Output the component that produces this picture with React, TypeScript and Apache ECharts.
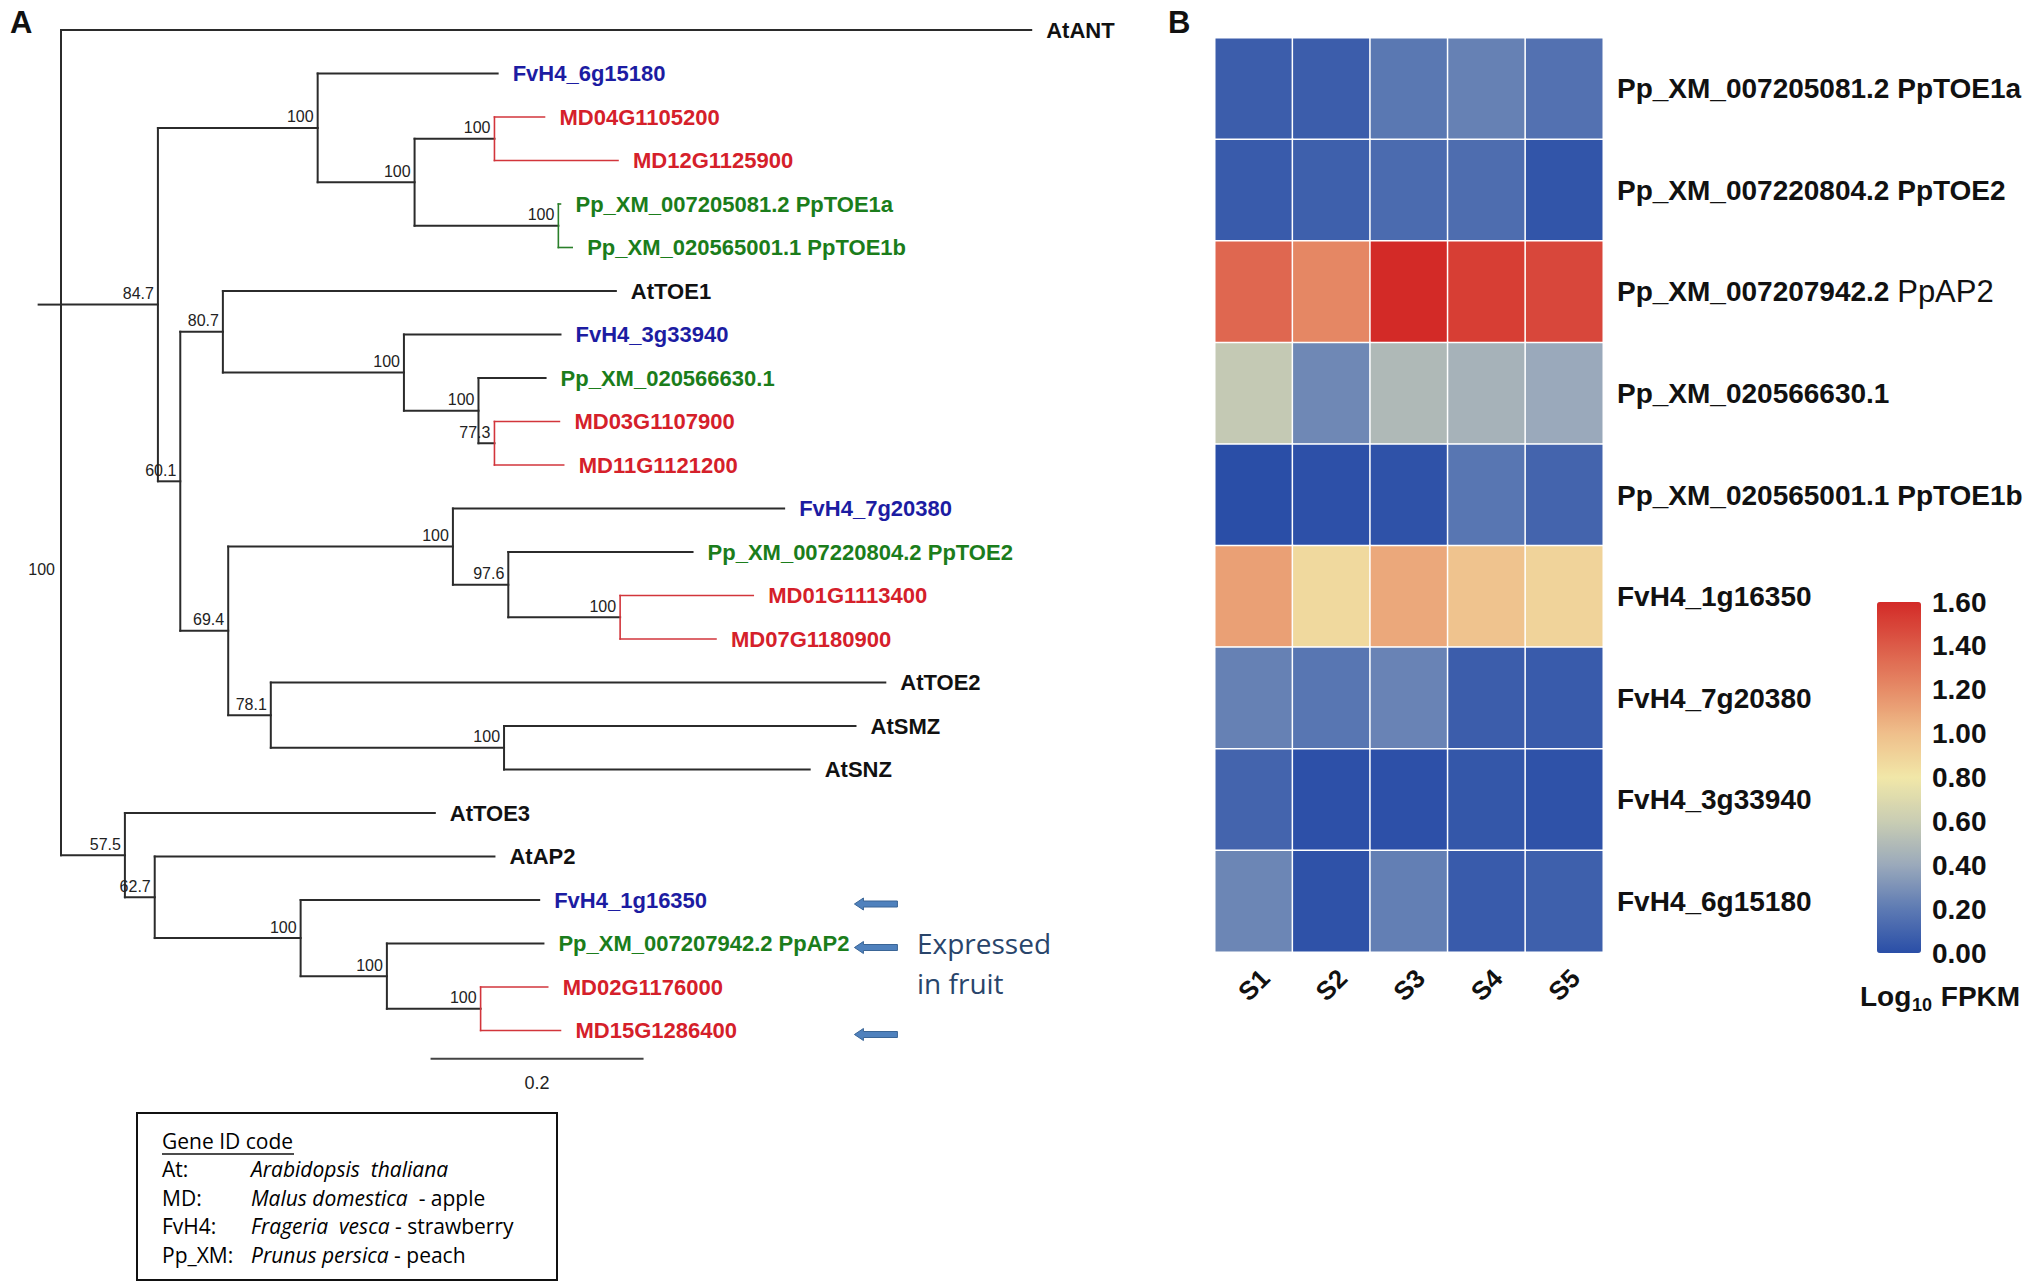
import { useEffect, useRef } from "react";
import * as echarts from "echarts";

const SANS = 'Arial, "Liberation Sans", Helvetica, sans-serif';
const HUMANIST = '"Open Sans", "Noto Sans", "DejaVu Sans", sans-serif';

// ---------------- Panel A: phylogenetic tree ----------------
// [node, parent, branch length, bootstrap support, clade tint]
const treeNodes: [string, string | null, number, string, string][] = [
  ["root", null, 0, "100", ""],
  ["AtANT", "root", 0.911, "", ""],
  ["n84.7", "root", 0.091, "84.7", ""],
  ["nA", "n84.7", 0.15, "100", ""],
  ["FvH4_6g15180", "nA", 0.169, "", ""],
  ["nB", "nA", 0.091, "100", ""],
  ["nMD1", "nB", 0.075, "100", "MD"],
  ["MD04G1105200", "nMD1", 0.047, "", ""],
  ["MD12G1125900", "nMD1", 0.116, "", ""],
  ["nPp1", "nB", 0.135, "100", "Pp"],
  ["Pp_XM_007205081.2 PpTOE1a", "nPp1", 0.002, "", ""],
  ["Pp_XM_020565001.1 PpTOE1b", "nPp1", 0.013, "", ""],
  ["n60.1", "n84.7", 0.021, "60.1", ""],
  ["n80.7", "n60.1", 0.04, "80.7", ""],
  ["AtTOE1", "n80.7", 0.369, "", ""],
  ["nC", "n80.7", 0.17, "100", ""],
  ["FvH4_3g33940", "nC", 0.147, "", ""],
  ["nD", "nC", 0.07, "100", ""],
  ["Pp_XM_020566630.1", "nD", 0.063, "", ""],
  ["n77.3", "nD", 0.015, "77.3", "MD"],
  ["MD03G1107900", "n77.3", 0.061, "", ""],
  ["MD11G1121200", "n77.3", 0.065, "", ""],
  ["n69.4", "n60.1", 0.045, "69.4", ""],
  ["nE", "n69.4", 0.211, "100", ""],
  ["FvH4_7g20380", "nE", 0.311, "", ""],
  ["n97.6", "nE", 0.052, "97.6", ""],
  ["Pp_XM_007220804.2 PpTOE2", "n97.6", 0.173, "", ""],
  ["nMD2", "n97.6", 0.105, "100", "MD"],
  ["MD01G1113400", "nMD2", 0.125, "", ""],
  ["MD07G1180900", "nMD2", 0.09, "", ""],
  ["n78.1", "n69.4", 0.04, "78.1", ""],
  ["AtTOE2", "n78.1", 0.577, "", ""],
  ["nF", "n78.1", 0.219, "100", ""],
  ["AtSMZ", "nF", 0.33, "", ""],
  ["AtSNZ", "nF", 0.287, "", ""],
  ["n57.5", "root", 0.06, "57.5", ""],
  ["AtTOE3", "n57.5", 0.291, "", ""],
  ["n62.7", "n57.5", 0.028, "62.7", ""],
  ["AtAP2", "n62.7", 0.319, "", ""],
  ["nG", "n62.7", 0.137, "100", ""],
  ["FvH4_1g16350", "nG", 0.224, "", ""],
  ["nH", "nG", 0.081, "100", ""],
  ["Pp_XM_007207942.2 PpAP2", "nH", 0.147, "", ""],
  ["nMD3", "nH", 0.088, "100", "MD"],
  ["MD02G1176000", "nMD3", 0.063, "", ""],
  ["MD15G1286400", "nMD3", 0.075, "", ""],
];
const rootStubLength = 0.021;
const scaleBarLength = 0.2;
const scaleBarLabel = "0.2";
const expressedLeaves = ["FvH4_1g16350", "Pp_XM_007207942.2 PpAP2", "MD15G1286400"];

const speciesPrefixes = ["FvH4", "MD", "Pp", "At"];
const speciesLabelColors = ["#1c1ca2", "#d5202a", "#1b7d1b", "#111111"];
const cladeTints: Record<string, string> = { MD: "#d2353b", Pp: "#2a7f2a", "": "#2b2b2b" };

const legendCodes = ["At:", "MD:", "FvH4:", "Pp_XM:"];
const legendSpecies = ["Arabidopsis  thaliana", "Malus domestica", "Frageria  vesca", "Prunus persica"];
const legendCommon = ["", "  - apple", " - strawberry", " - peach"];

// ---------------- Panel B: heatmap ----------------
const heatSamples = ["S1", "S2", "S3", "S4", "S5"];
const heatGenes = [
  "Pp_XM_007205081.2 PpTOE1a",
  "Pp_XM_007220804.2 PpTOE2",
  "Pp_XM_007207942.2 PpAP2",
  "Pp_XM_020566630.1",
  "Pp_XM_020565001.1 PpTOE1b",
  "FvH4_1g16350",
  "FvH4_7g20380",
  "FvH4_3g33940",
  "FvH4_6g15180",
];
const heatValues = [
  [0.07, 0.07, 0.19, 0.23, 0.16],
  [0.06, 0.08, 0.13, 0.14, 0.03],
  [1.35, 1.22, 1.6, 1.52, 1.48],
  [0.58, 0.26, 0.49, 0.45, 0.4],
  [0.0, 0.01, 0.02, 0.18, 0.1],
  [1.12, 0.87, 1.09, 0.98, 0.9],
  [0.23, 0.18, 0.24, 0.07, 0.06],
  [0.1, 0.01, 0.01, 0.04, 0.02],
  [0.25, 0.02, 0.22, 0.06, 0.08],
];
const colorScaleMin = 0;
const colorScaleMax = 1.6;
const colorScaleStep = 0.2;
const colorScaleStops = [
  "#2a4ea7", "#5d7ab3", "#9aa9bb", "#c9cdb3", "#f1e7a8",
  "#efbf8b", "#e68c67", "#dc5b48", "#d32a27",
];

type TNode = {
  name: string;
  parent: TNode | null;
  bl: number;
  support: string;
  tint: string;
  children: TNode[];
  x: number;
  y: number;
};

function buildTree(): TNode[] {
  const map = new Map<string, TNode>();
  const list: TNode[] = [];
  treeNodes.forEach(([name, , bl, support, tint]) => {
    const n: TNode = { name, parent: null, bl, support, tint, children: [], x: 0, y: 0 };
    map.set(name, n);
    list.push(n);
  });
  treeNodes.forEach(([name, parent]) => {
    if (parent) {
      const n = map.get(name)!;
      const p = map.get(parent)!;
      n.parent = p;
      p.children.push(n);
    }
  });
  let leaf = 0;
  const layout = (n: TNode) => {
    n.x = n.parent ? n.parent.x + n.bl : 0;
    if (!n.children.length) {
      n.y = leaf++;
      return;
    }
    n.children.forEach(layout);
    const k = n.children.length;
    n.y = k % 2 === 1 ? n.children[(k - 1) / 2].y : (n.children[0].y + n.children[k - 1].y) / 2;
  };
  layout(map.get("root")!);
  return list;
}

function leafColor(name: string) {
  const i = speciesPrefixes.findIndex((p) => name.startsWith(p));
  return speciesLabelColors[i < 0 ? 3 : i];
}

function buildOption() {
  const nodes = buildTree();
  const leafCount = nodes.filter((n) => !n.children.length).length;
  const byName = new Map(nodes.map((n) => [n.name, n]));

  const treeData = nodes.map((n) => [
    n.x,
    n.y,
    n.parent ? n.parent.x : -rootStubLength,
    n.children.length ? n.children[0].y : n.y,
    n.children.length ? n.children[n.children.length - 1].y : n.y,
  ]);

  const heatData: number[][] = [];
  heatValues.forEach((row, r) => row.forEach((v, c) => heatData.push([c, r, v])));

  const arrowData = expressedLeaves.map((name) => [0.745, byName.get(name)!.y]);
  const scaleData = [[0.347, leafCount - 1 + 0.65]];

  const legendGraphics: any[] = [
    { type: "rect", shape: { x: 137, y: 1113, width: 420, height: 167 }, style: { fill: "#fff", stroke: "#111", lineWidth: 2 } },
    { type: "text", x: 162, y: 1141, style: { text: "Gene ID code", font: `21px ${HUMANIST}`, fill: "#000", align: "left", verticalAlign: "middle" } },
    { type: "line", shape: { x1: 162, y1: 1154, x2: 294, y2: 1154 }, style: { stroke: "#111", lineWidth: 1.5 } },
  ];
  legendCodes.forEach((code, i) => {
    const y = 1169 + i * 28.7;
    legendGraphics.push({ type: "text", x: 162, y, style: { text: code, font: `21px ${HUMANIST}`, fill: "#000", align: "left", verticalAlign: "middle" } });
    legendGraphics.push({
      type: "text",
      x: 251,
      y,
      style: {
        text: `{i|${legendSpecies[i]}}{n|${legendCommon[i]}}`,
        align: "left",
        verticalAlign: "middle",
        rich: {
          i: { fontStyle: "italic", fontSize: 21, fontFamily: HUMANIST, fill: "#000" },
          n: { fontSize: 21, fontFamily: HUMANIST, fill: "#000" },
        },
      },
    });
  });

  return {
    animation: false,
    backgroundColor: "#ffffff",
    grid: [
      { left: 61 - 0.05 * 1065, top: 30, width: 1.05 * 1065, height: 43.5 * (leafCount - 1) },
      { left: 1215, top: 38, width: 388, height: 914 },
      { left: 1920, top: 602, width: 1, height: 351 },
    ],
    xAxis: [
      { gridIndex: 0, type: "value", min: -0.05, max: 1.0, show: false },
      {
        gridIndex: 1,
        type: "category",
        data: heatSamples,
        position: "bottom",
        axisLine: { show: false },
        axisTick: { show: false },
        splitLine: { show: false },
        axisLabel: {
          rotate: 45,
          align: "center",
          verticalAlign: "middle",
          margin: 33,
          fontSize: 26,
          fontWeight: "bold",
          fontFamily: SANS,
          color: "#111",
        },
      },
      { gridIndex: 2, type: "value", show: false },
    ],
    yAxis: [
      { gridIndex: 0, type: "value", min: 0, max: leafCount - 1, inverse: true, show: false },
      {
        gridIndex: 1,
        type: "category",
        data: heatGenes,
        inverse: true,
        position: "right",
        axisLine: { show: false },
        axisTick: { show: false },
        splitLine: { show: false },
        axisLabel: {
          margin: 14,
          formatter: (v: string) =>
            v.endsWith(" PpAP2") ? `{a|${v.slice(0, -5)}}{b|PpAP2}` : `{a|${v}}`,
          rich: {
            a: { fontSize: 28, fontWeight: "bold", fontFamily: SANS, color: "#111" },
            b: { fontSize: 31, fontWeight: "normal", fontFamily: SANS, color: "#111" },
          },
        },
      },
      {
        gridIndex: 2,
        type: "value",
        min: colorScaleMin,
        max: colorScaleMax,
        interval: colorScaleStep,
        position: "right",
        axisLine: { show: false },
        axisTick: { show: false },
        splitLine: { show: false },
        axisLabel: {
          margin: 11,
          formatter: (v: number) => v.toFixed(2),
          fontSize: 28,
          fontWeight: "bold",
          fontFamily: SANS,
          color: "#111",
        },
      },
    ],
    visualMap: {
      type: "continuous",
      seriesIndex: 3,
      min: colorScaleMin,
      max: colorScaleMax,
      orient: "vertical",
      left: 1877,
      top: 602,
      padding: 0,
      itemWidth: 44,
      itemHeight: 351,
      calculable: false,
      hoverLink: false,
      inRange: { color: colorScaleStops },
    },
    series: [
      {
        type: "custom",
        name: "tree",
        xAxisIndex: 0,
        yAxisIndex: 0,
        clip: false,
        data: treeData,
        renderItem: (params: any, api: any) => {
          const n = nodes[params.dataIndex];
          const x = api.value(0);
          const y = api.value(1);
          const px = api.value(2);
          const [X, Y] = api.coord([x, y]);
          const PX = api.coord([px, y])[0];
          const els: any[] = [];
          const hStroke = cladeTints[n.parent ? n.parent.tint : ""];
          els.push({
            type: "line",
            shape: { x1: PX, y1: Y, x2: X, y2: Y },
            style: { stroke: hStroke, lineWidth: n.parent && n.parent.tint ? 1.6 : 2, lineCap: "square" },
          });
          if (n.children.length) {
            const top = api.coord([x, api.value(3)])[1];
            const bot = api.coord([x, api.value(4)])[1];
            els.push({
              type: "line",
              shape: { x1: X, y1: top, x2: X, y2: bot },
              style: { stroke: cladeTints[n.tint], lineWidth: n.tint ? 1.6 : 2, lineCap: "square" },
            });
            if (n.support) {
              if (!n.parent) {
                const last = n.children[n.children.length - 1];
                const my = api.coord([x, (n.y + last.y) / 2])[1];
                els.push({
                  type: "text",
                  x: X - 6,
                  y: my - 10,
                  style: { text: n.support, font: `16px ${SANS}`, fill: "#222", align: "right", verticalAlign: "middle" },
                });
              } else {
                els.push({
                  type: "text",
                  x: X - 4,
                  y: Y - 3,
                  style: { text: n.support, font: `16px ${SANS}`, fill: "#222", align: "right", verticalAlign: "bottom" },
                });
              }
            }
          } else {
            els.push({
              type: "text",
              x: X + 15,
              y: Y,
              style: { text: n.name, font: `bold 22px ${SANS}`, fill: leafColor(n.name), align: "left", verticalAlign: "middle" },
            });
          }
          return { type: "group", children: els };
        },
      },
      {
        type: "custom",
        name: "arrows",
        xAxisIndex: 0,
        yAxisIndex: 0,
        clip: false,
        data: arrowData,
        renderItem: (_p: any, api: any) => {
          const [X, Y0] = api.coord([api.value(0), api.value(1)]);
          const Y = Y0 + 4;
          return {
            type: "polygon",
            shape: {
              points: [
                [X, Y],
                [X + 9, Y - 6],
                [X + 9, Y - 3],
                [X + 43, Y - 3],
                [X + 43, Y + 3],
                [X + 9, Y + 3],
                [X + 9, Y + 6],
              ],
            },
            style: { fill: "#4f81bd", stroke: "#3a6596", lineWidth: 1 },
          };
        },
      },
      {
        type: "custom",
        name: "scalebar",
        xAxisIndex: 0,
        yAxisIndex: 0,
        clip: false,
        data: scaleData,
        renderItem: (_p: any, api: any) => {
          const [X1, Y] = api.coord([api.value(0), api.value(1)]);
          const X2 = api.coord([api.value(0) + scaleBarLength, api.value(1)])[0];
          return {
            type: "group",
            children: [
              { type: "line", shape: { x1: X1, y1: Y, x2: X2, y2: Y }, style: { stroke: "#444", lineWidth: 2 } },
              {
                type: "text",
                x: (X1 + X2) / 2,
                y: Y + 24,
                style: { text: scaleBarLabel, font: `18px ${SANS}`, fill: "#222", align: "center", verticalAlign: "middle" },
              },
            ],
          };
        },
      },
      {
        type: "heatmap",
        name: "expression",
        xAxisIndex: 1,
        yAxisIndex: 1,
        data: heatData,
        label: { show: false },
        itemStyle: { borderColor: "#ffffff", borderWidth: 1.5 },
        emphasis: { disabled: true },
      },
    ],
    graphic: [
      { type: "text", x: 10, y: 7, style: { text: "A", font: `bold 31px ${SANS}`, fill: "#111" } },
      { type: "text", x: 1168, y: 7, style: { text: "B", font: `bold 31px ${SANS}`, fill: "#111" } },
      { type: "text", x: 917, y: 943, style: { text: "Expressed", font: `28px ${HUMANIST}`, fill: "#29456b", align: "left", verticalAlign: "middle" } },
      { type: "text", x: 917, y: 983, style: { text: "in fruit", font: `28px ${HUMANIST}`, fill: "#29456b", align: "left", verticalAlign: "middle" } },
      { type: "text", x: 1860, y: 996, style: { text: "Log", font: `bold 28px ${SANS}`, fill: "#111", align: "left", verticalAlign: "middle" } },
      { type: "text", x: 1912, y: 1005, style: { text: "10", font: `bold 18px ${SANS}`, fill: "#111", align: "left", verticalAlign: "middle" } },
      { type: "text", x: 1933, y: 996, style: { text: " FPKM", font: `bold 28px ${SANS}`, fill: "#111", align: "left", verticalAlign: "middle" } },
      ...legendGraphics,
    ],
  };
}

export default function App() {
  const ref = useRef<HTMLDivElement>(null);
  useEffect(() => {
    if (!ref.current) return;
    const chart = echarts.init(ref.current, undefined, { renderer: "svg" });
    chart.setOption(buildOption() as any);
    return () => chart.dispose();
  }, []);
  return (
    <div
      ref={ref}
      style={{ position: "absolute", left: 0, top: 0, width: 2033, height: 1287, background: "#fff" }}
    />
  );
}
